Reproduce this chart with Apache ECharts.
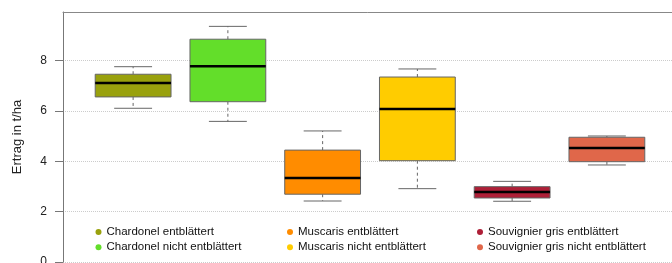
<!DOCTYPE html>
<html>
<head>
<meta charset="utf-8">
<script src="https://cdn.jsdelivr.net/npm/echarts@6/dist/echarts.min.js"></script>
<style>html,body{margin:0;padding:0;background:#fff}#c{width:672px;height:263px}</style>
</head>
<body>
<div id="c"></div>
<script>
const categories = ['Chardonel entblättert','Chardonel nicht entblättert','Muscaris entblättert','Muscaris nicht entblättert','Souvignier gris entblättert','Souvignier gris nicht entblättert'];
const whiskerLow  = [6.10, 5.58, 2.42, 2.91, 2.41, 3.85];
const q1          = [6.55, 6.36, 2.69, 4.02, 2.54, 3.98];
const median      = [7.10, 7.77, 3.33, 6.07, 2.78, 4.52];
const q3          = [7.45, 8.84, 4.44, 7.34, 2.99, 4.95];
const whiskerHigh = [7.75, 9.35, 5.20, 7.66, 3.20, 5.00];
const colors = ['#99A10D','#63DE2A','#FF8C00','#FFCC00','#AE1F37','#E0674A'];
const yTicks = [0, 2, 4, 6, 8];

const chart = echarts.init(document.getElementById('c'), null, {renderer:'canvas'});
const FONT = '"Liberation Sans", Arial, sans-serif';

function renderBox(params, api) {
  const x = api.value(0);
  const lo = api.coord([x, api.value(1)]);
  const b1 = api.coord([x, api.value(2)]);
  const md = api.coord([x, api.value(3)]);
  const b3 = api.coord([x, api.value(4)]);
  const hi = api.coord([x, api.value(5)]);
  const hw = api.size([0.8, 0])[0] / 2;
  const cw = api.size([0.4, 0])[0] / 2;
  const cx = lo[0];
  const col = api.visual('color');
  const grey = '#666';
  return {
    type: 'group',
    children: [
      {type:'line', shape:{x1:cx,y1:b3[1],x2:cx,y2:hi[1]}, style:{stroke:grey,lineWidth:1,lineDash:[3,3]}},
      {type:'line', shape:{x1:cx,y1:b1[1],x2:cx,y2:lo[1]}, style:{stroke:grey,lineWidth:1,lineDash:[3,3]}},
      {type:'line', shape:{x1:cx-cw,y1:hi[1],x2:cx+cw,y2:hi[1]}, style:{stroke:grey,lineWidth:1}},
      {type:'line', shape:{x1:cx-cw,y1:lo[1],x2:cx+cw,y2:lo[1]}, style:{stroke:grey,lineWidth:1}},
      {type:'rect', shape:{x:cx-hw,y:b3[1],width:2*hw,height:b1[1]-b3[1]}, style:{fill:col,stroke:grey,lineWidth:1}},
      {type:'line', shape:{x1:cx-hw,y1:md[1],x2:cx+hw,y2:md[1]}, style:{stroke:'#000',lineWidth:2.5}}
    ]
  };
}

const series = categories.map((name, i) => ({
  name: name,
  type: 'custom',
  renderItem: renderBox,
  itemStyle: {color: colors[i]},
  encode: {x: 0, y: [1,2,3,4,5]},
  data: [[i + 1, whiskerLow[i], q1[i], median[i], q3[i], whiskerHigh[i]]],
  animation: false
}));

function legend(items, left) {
  return {
    data: items,
    orient: 'vertical',
    left: left,
    top: 225,
    icon: 'circle',
    itemWidth: 6,
    itemHeight: 6,
    itemGap: 1.3,
    padding: 0,
    selectedMode: false,
    textStyle: {fontFamily: FONT, fontSize: 11.5, color: '#111', lineHeight: 14}
  };
}

chart.setOption({
  animation: false,
  backgroundColor: '#fff',
  grid: {left: 63, right: -5, top: 12, bottom: 1, containLabel: false, outerBoundsMode: 'none'},
  xAxis: [
    {type:'value', min:0.26, max:6.74, position:'bottom', axisLine:{show:false}, axisTick:{show:false}, axisLabel:{show:false}, splitLine:{show:false}},
    {type:'value', min:0.26, max:6.74, position:'top', axisLine:{show:true, lineStyle:{color:'#888', width:1}}, axisTick:{show:false}, axisLabel:{show:false}, splitLine:{show:false}}
  ],
  yAxis: {
    type: 'value', min: 0, max: 9.92, interval: 2,
    name: 'Ertrag in t/ha', nameLocation: 'middle', nameGap: 39, nameRotate: 90,
    nameTextStyle: {fontFamily: FONT, fontSize: 13, color: '#222'},
    axisLine: {show: true, lineStyle: {color: '#777', width: 1}},
    axisTick: {show: true, length: 8, lineStyle: {color: '#777'}, customValues: yTicks},
    axisLabel: {fontFamily: FONT, fontSize: 12, color: '#222', margin: 16, customValues: yTicks},
    splitLine: {show: true, lineStyle: {color: '#ccc', type: 'dotted', width: 1}}
  },
  legend: [
    legend([categories[0], categories[1]], 95.5),
    legend([categories[2], categories[3]], 287),
    legend([categories[4], categories[5]], 477)
  ],
  series: series
});
</script>
</body>
</html>
